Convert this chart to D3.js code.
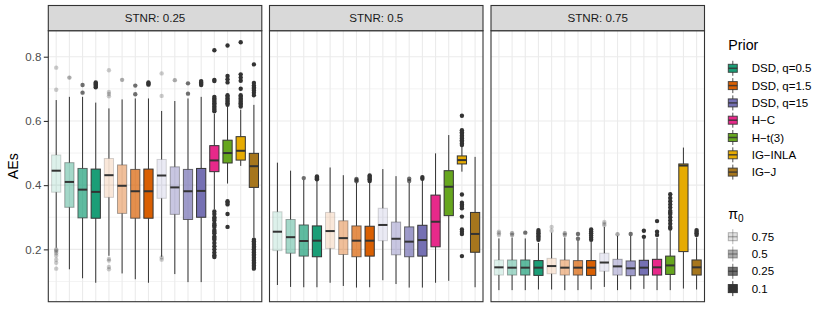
<!DOCTYPE html>
<html>
<head>
<meta charset="utf-8">
<script src="https://cdn.jsdelivr.net/npm/d3@7"></script>
<style>
  body { margin: 0; background: #fff; }
  svg { font-family: "Liberation Sans", Arial, sans-serif; }
</style>
</head>
<body>
<svg id="chart" width="830" height="331"></svg>
<script>
// Data
const stnrLevels = ["0.25", "0.5", "0.75"];
const priors = ["DSD, q=0.5", "DSD, q=1.5", "DSD, q=15", "H\u2212C", "H\u2212t(3)", "IG\u2212INLA", "IG\u2212J"];
const priorColors = ["#1B9E77", "#D95F02", "#7570B3", "#E7298A", "#66A61E", "#E6AB02", "#A6761D"];
const pi0Levels = ["0.75", "0.5", "0.25", "0.1"];
const pi0Alpha = [0.15, 0.4, 0.7, 1];
const yTicks = [0.2, 0.4, 0.6, 0.8];
const yMinor = [0.1, 0.3, 0.5, 0.7];

// categories on x: 3 DSD priors x 4 pi0 levels, then the 4 other priors
const categories = [];
[0, 1, 2].forEach(p => pi0Levels.forEach((pi, k) => categories.push({ id: p + "_" + pi, prior: p, alpha: pi0Alpha[k] })));
[3, 4, 5, 6].forEach(p => categories.push({ id: p + "_all", prior: p, alpha: 1 }));

// box statistics per panel: [lower whisker, q1, median, q3, upper whisker]
const boxes025 = [
  [0.205, 0.378, 0.445, 0.494, 0.665], [0.138, 0.331, 0.410, 0.470, 0.675],
  [0.110, 0.298, 0.386, 0.452, 0.675], [0.096, 0.297, 0.379, 0.450, 0.657],
  [0.180, 0.362, 0.431, 0.483, 0.639], [0.125, 0.312, 0.398, 0.463, 0.667],
  [0.107, 0.297, 0.381, 0.449, 0.670], [0.096, 0.297, 0.381, 0.450, 0.670],
  [0.177, 0.359, 0.430, 0.480, 0.631], [0.123, 0.309, 0.393, 0.457, 0.662],
  [0.098, 0.293, 0.381, 0.449, 0.670], [0.098, 0.300, 0.382, 0.452, 0.675],
  [0.325, 0.442, 0.477, 0.523, 0.622], [0.405, 0.469, 0.500, 0.540, 0.645],
  [0.460, 0.478, 0.507, 0.551, 0.635], [0.237, 0.393, 0.459, 0.499, 0.650]
];
const boxes05 = [
  [0.089, 0.196, 0.255, 0.317, 0.470], [0.083, 0.188, 0.238, 0.293, 0.445],
  [0.082, 0.179, 0.226, 0.276, 0.416], [0.082, 0.177, 0.227, 0.273, 0.415],
  [0.096, 0.203, 0.257, 0.315, 0.455], [0.086, 0.184, 0.235, 0.289, 0.431],
  [0.081, 0.177, 0.227, 0.273, 0.408], [0.082, 0.179, 0.227, 0.272, 0.407],
  [0.104, 0.227, 0.276, 0.328, 0.450], [0.092, 0.183, 0.233, 0.285, 0.428],
  [0.081, 0.177, 0.224, 0.270, 0.407], [0.081, 0.179, 0.229, 0.275, 0.416],
  [0.096, 0.208, 0.286, 0.369, 0.499], [0.102, 0.305, 0.395, 0.445, 0.556],
  [0.442, 0.466, 0.478, 0.491, 0.520], [0.082, 0.191, 0.248, 0.315, 0.488]
];
const boxes075 = [
  [0.073, 0.120, 0.144, 0.167, 0.234], [0.073, 0.120, 0.143, 0.167, 0.237],
  [0.073, 0.120, 0.143, 0.167, 0.234], [0.075, 0.119, 0.143, 0.165, 0.220],
  [0.075, 0.124, 0.148, 0.172, 0.252], [0.073, 0.120, 0.143, 0.167, 0.237],
  [0.073, 0.120, 0.143, 0.165, 0.227], [0.075, 0.119, 0.143, 0.165, 0.224],
  [0.083, 0.132, 0.159, 0.188, 0.270], [0.073, 0.120, 0.147, 0.169, 0.242],
  [0.075, 0.118, 0.141, 0.164, 0.242], [0.077, 0.120, 0.143, 0.166, 0.234],
  [0.073, 0.120, 0.144, 0.169, 0.236], [0.073, 0.122, 0.150, 0.179, 0.260],
  [0.078, 0.193, 0.461, 0.466, 0.517], [0.075, 0.120, 0.144, 0.167, 0.237]
];

// outliers per box
const outliers025 = [
  [0.766, 0.697, 0.200, 0.197, 0.193, 0.188, 0.180, 0.168, 0.158, 0.140],
  [0.735],
  [0.712, 0.688],
  [0.705, 0.709, 0.713, 0.716, 0.720],
  [0.758, 0.690, 0.684, 0.677, 0.170, 0.165, 0.145, 0.138],
  [0.728],
  [0.710, 0.683],
  [0.713, 0.716, 0.720],
  [0.748, 0.678, 0.175, 0.168],
  [0.727],
  [0.717, 0.685],
  [0.712, 0.716, 0.720, 0.724],
  [0.820, 0.728, 0.724, 0.675, 0.670, 0.665, 0.660, 0.655, 0.650, 0.645, 0.640, 0.635, 0.630,
   0.318, 0.310, 0.300, 0.295, 0.290, 0.280, 0.275, 0.270, 0.260, 0.255, 0.250, 0.240, 0.235,
   0.230, 0.220, 0.210, 0.200, 0.190, 0.182, 0.176],
  [0.835, 0.740, 0.730, 0.720, 0.680, 0.675, 0.670, 0.665, 0.660, 0.655, 0.650, 0.350, 0.345, 0.340, 0.310, 0.270],
  [0.845, 0.745, 0.735, 0.725, 0.700, 0.680, 0.675, 0.670, 0.665, 0.660, 0.655, 0.650, 0.645],
  [0.776, 0.718, 0.710, 0.705, 0.700, 0.695, 0.688, 0.680,
   0.230, 0.225, 0.220, 0.215, 0.210, 0.205, 0.200, 0.195, 0.190, 0.185, 0.180, 0.175, 0.170,
   0.165, 0.160, 0.155, 0.150, 0.145, 0.140]
];
const outliers05 = [
  [], [], [0.422], [0.418, 0.421, 0.424, 0.427],
  [], [], [0.412, 0.416, 0.419], [0.413, 0.418, 0.422, 0.426, 0.430],
  [], [], [0.413, 0.420], [0.420, 0.425],
  [], [],
  [0.616, 0.571, 0.565, 0.560, 0.555, 0.550, 0.545, 0.540, 0.535, 0.530, 0.525,
   0.371, 0.345, 0.340, 0.335, 0.328, 0.302, 0.262, 0.255, 0.248, 0.179],
  []
];
const outliers075 = [
  [0.245, 0.250, 0.255], [0.245, 0.250], [0.252], [0.230, 0.235, 0.240, 0.245, 0.250, 0.255, 0.260],
  [0.258, 0.270], [0.245, 0.250], [0.233, 0.248], [0.230, 0.236, 0.243, 0.250, 0.256, 0.262],
  [0.275, 0.280, 0.285], [0.247], [0.248], [0.239, 0.258],
  [0.245, 0.255, 0.288],
  [0.265, 0.270, 0.280, 0.290, 0.300, 0.310, 0.315, 0.320, 0.330, 0.340, 0.350, 0.360, 0.372],
  [],
  [0.245, 0.250, 0.255, 0.260]
];

const panelBoxes = [boxes025, boxes05, boxes075];
const panelOutliers = [outliers025, outliers05, outliers075];

// Layout
const svg = d3.select("#chart");
const panelLeft = [48.3, 269.5, 491];
const panelW = 213.5;
const stripTop = 5.5, stripH = 25.2;
const panelTop = stripTop + stripH, panelBottom = 301.7;

const y = d3.scaleLinear().domain([0.037, 0.881]).range([panelBottom, panelTop]);
const x = d3.scalePoint().domain(categories.map(c => c.id)).range([0, panelW]).padding(0.6);
const boxW = x.step() * 0.7;

const dark = "#333333";

stnrLevels.forEach((stnr, pi) => {
  const g = svg.append("g").attr("transform", `translate(${panelLeft[pi]},0)`);

  // panel background + grid
  g.append("rect").attr("x", 0).attr("y", panelTop).attr("width", panelW)
    .attr("height", panelBottom - panelTop).attr("fill", "#fff");
  g.selectAll(".minor").data(yMinor).join("line")
    .attr("x1", 0).attr("x2", panelW).attr("y1", d => y(d)).attr("y2", d => y(d))
    .attr("stroke", "#ebebeb").attr("stroke-width", 0.6);
  g.selectAll(".major").data(yTicks).join("line")
    .attr("x1", 0).attr("x2", panelW).attr("y1", d => y(d)).attr("y2", d => y(d))
    .attr("stroke", "#ebebeb").attr("stroke-width", 1.1);
  g.selectAll(".vgrid").data(categories).join("line")
    .attr("x1", d => x(d.id)).attr("x2", d => x(d.id)).attr("y1", panelTop).attr("y2", panelBottom)
    .attr("stroke", "#ebebeb").attr("stroke-width", 1.1);

  const marks = g.append("g");
  categories.forEach((c, i) => {
    const [lo, q1, med, q3, hi] = panelBoxes[pi][i];
    const cx = x(c.id);
    const col = priorColors[c.prior];
    // whiskers
    marks.append("line").attr("x1", cx).attr("x2", cx).attr("y1", y(q3)).attr("y2", y(hi))
      .attr("stroke", dark).attr("stroke-width", 1);
    marks.append("line").attr("x1", cx).attr("x2", cx).attr("y1", y(q1)).attr("y2", Math.min(y(lo), panelBottom))
      .attr("stroke", dark).attr("stroke-width", 1);
    // box
    marks.append("rect").attr("x", cx - boxW / 2).attr("width", boxW)
      .attr("y", y(q3)).attr("height", y(q1) - y(q3))
      .attr("fill", col).attr("fill-opacity", c.alpha)
      .attr("stroke", dark).attr("stroke-opacity", Math.max(c.alpha, 0.2)).attr("stroke-width", 1);
    // median
    marks.append("line").attr("x1", cx - boxW / 2).attr("x2", cx + boxW / 2)
      .attr("y1", y(med)).attr("y2", y(med)).attr("stroke", dark).attr("stroke-width", 2);
    // outliers
    marks.selectAll(null).data(panelOutliers[pi][i]).join("circle")
      .attr("cx", cx).attr("cy", d => y(d)).attr("r", 2.2)
      .attr("fill", dark).attr("fill-opacity", Math.max(c.alpha, 0.25));
  });

  // panel border
  g.append("rect").attr("x", 0).attr("y", panelTop).attr("width", panelW)
    .attr("height", panelBottom - panelTop).attr("fill", "none").attr("stroke", dark).attr("stroke-width", 1.1);

  // strip
  g.append("rect").attr("x", 0).attr("y", stripTop).attr("width", panelW).attr("height", stripH)
    .attr("fill", "#d9d9d9").attr("stroke", dark).attr("stroke-width", 1.1);
  g.append("text").attr("x", panelW / 2).attr("y", stripTop + stripH / 2).attr("dy", "0.35em")
    .attr("text-anchor", "middle").attr("font-size", 11.6).attr("fill", "#1a1a1a")
    .text("STNR: " + stnr);
});

// y axis
const yAxis = svg.append("g").attr("transform", `translate(${panelLeft[0]},0)`)
  .call(d3.axisLeft(y).tickValues(yTicks).tickSize(4.5).tickPadding(2.5).tickFormat(d3.format(".1f")));
yAxis.select(".domain").remove();
yAxis.selectAll(".tick line").attr("stroke", dark).attr("stroke-width", 1.1);
yAxis.selectAll(".tick text").attr("fill", "#4d4d4d").attr("font-size", 11.5)
  .attr("font-family", "'Liberation Sans', Arial, sans-serif");

svg.append("text").attr("transform", `translate(18,${(panelTop + panelBottom) / 2}) rotate(-90)`)
  .attr("text-anchor", "middle").attr("font-size", 14.2).attr("fill", "#000").text("AEs");

// legends
const legX = 728.3;
const keyCx = 732.8;
const keyStep = 17.3;

function drawKey(gy, fill, fillOpacity, lineOpacity) {
  const k = svg.append("g");
  k.append("line").attr("x1", keyCx).attr("x2", keyCx).attr("y1", gy - 7.5).attr("y2", gy + 7.5)
    .attr("stroke", dark).attr("stroke-opacity", lineOpacity).attr("stroke-width", 1);
  k.append("rect").attr("x", keyCx - 4.5).attr("width", 9).attr("y", gy - 4).attr("height", 8)
    .attr("fill", fill).attr("fill-opacity", fillOpacity)
    .attr("stroke", dark).attr("stroke-opacity", lineOpacity).attr("stroke-width", 1);
  k.append("line").attr("x1", keyCx - 4.5).attr("x2", keyCx + 4.5).attr("y1", gy).attr("y2", gy)
    .attr("stroke", dark).attr("stroke-opacity", lineOpacity).attr("stroke-width", 1.5);
}

svg.append("text").attr("x", legX).attr("y", 50).attr("font-size", 14.2).attr("fill", "#000").text("Prior");
priors.forEach((p, i) => {
  const gy = 68.3 + i * keyStep;
  drawKey(gy, priorColors[i], 1, 0.85);
  svg.append("text").attr("x", 751.7).attr("y", gy).attr("dy", "0.36em")
    .attr("font-size", 11.5).attr("fill", "#000").text(p);
});

const piTitle = svg.append("text").attr("x", legX).attr("y", 219).attr("font-size", 14.2).attr("fill", "#000");
piTitle.append("tspan").text("\u03c0");
piTitle.append("tspan").attr("font-size", 10).attr("dy", 3).text("0");
pi0Levels.forEach((p, i) => {
  const gy = 236.7 + i * keyStep;
  drawKey(gy, "#333333", pi0Alpha[i], Math.max(pi0Alpha[i], 0.35));
  svg.append("text").attr("x", 751.7).attr("y", gy).attr("dy", "0.36em")
    .attr("font-size", 11.5).attr("fill", "#000").text(p);
});
</script>
</body>
</html>
